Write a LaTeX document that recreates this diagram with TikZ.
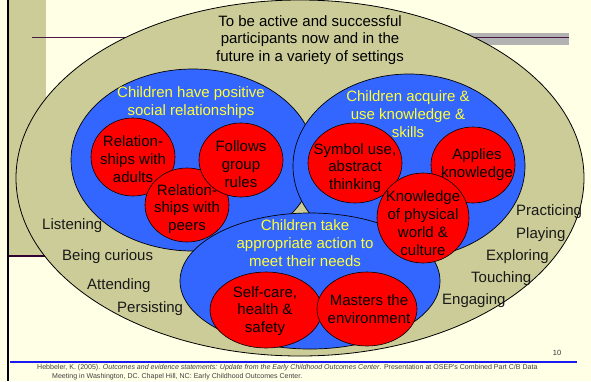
\documentclass[tikz,border=0pt]{standalone}
\usepackage{fontspec}
\setmainfont{Liberation Sans}
\usetikzlibrary{shapes.geometric}
\definecolor{slidebg}{HTML}{FFFFE5}
\definecolor{khaki}{HTML}{CCCC99}
\definecolor{ballblue}{HTML}{3366FF}
\definecolor{ballred}{HTML}{FF0000}
\definecolor{labelyellow}{HTML}{FFFF33}
\definecolor{rulepurple}{HTML}{4A1942}
\definecolor{barpurple}{HTML}{330033}
\definecolor{bargray}{HTML}{B2B2B2}
\definecolor{footblue}{HTML}{1A1AF0}

\begin{document}
\begin{tikzpicture}[x=1pt,y=-1pt,
  every node/.style={font=\fontsize{15}{17.8}\selectfont, align=center, inner sep=0pt},
  outerball/.style={ellipse, draw=black, line width=0.8pt, fill=khaki},
  domainball/.style={ellipse, draw=black, line width=0.7pt, fill=ballblue},
  outcomeball/.style={ellipse, draw=black, line width=0.6pt, fill=ballred},
  domaintext/.style={text=labelyellow},
  outcometext/.style={text=black},
  verb/.style={anchor=west, text=black!90},
  citetext/.style={anchor=west, font=\fontsize{7.05}{8}\selectfont, text=black!75}]

\useasboundingbox (0,0) rectangle (591,381);

% slide background and decorations
\fill[slidebg] (0,0) rectangle (591,381);
\fill[khaki] (9,0) rectangle (46,256);
\draw[barpurple, line width=2pt] (9,256) -- (120,256);
\fill[bargray] (440,32.5) rectangle (569,45);
\draw[rulepurple, line width=1.3pt] (32,37.5) -- (569,37.5);
\draw[black, line width=2.5pt] (8,0) -- (8,381);
\draw[footblue, line width=2pt] (10,362) -- (577,362);

% outer goal ellipse
\node[outerball, minimum width=568pt, minimum height=356pt] (goal) at (300,178) {};
\node (goalT) at (310,40) {To be active and successful\\participants now and in the\\future in a variety of settings};

% three outcome domains
\node[domainball, minimum width=244pt, minimum height=182pt] (social) at (193,160) {};
\node[domainball, minimum width=232pt, minimum height=184pt] (knowledge) at (409,166) {};
\node[domainball, minimum width=260pt, minimum height=136pt] (needs) at (310,281) {};

\node[domaintext] (socialT) at (191,103) {Children have positive\\social relationships};
\node[domaintext] (knowledgeT) at (408,114) {Children acquire \&\\use knowledge \&\\skills};
\node[domaintext] (needsT) at (305,243) {Children take\\appropriate action to\\meet their needs};

% specific outcomes
\node[outcomeball, minimum width=84pt, minimum height=78pt] (adults) at (133,157) {};
\node[outcomeball, minimum width=84pt, minimum height=74pt] (peers) at (187,205) {};
\node[outcomeball, minimum width=84pt, minimum height=74pt] (rules) at (241,160) {};
\node[outcomeball, minimum width=94pt, minimum height=80pt] (symbol) at (355,163) {};
\node[outcomeball, minimum width=84pt, minimum height=76pt] (applies) at (473,165) {};
\node[outcomeball, minimum width=92pt, minimum height=90pt] (world) at (423,218) {};
\node[outcomeball, minimum width=112pt, minimum height=76pt] (selfcare) at (266,310) {};
\node[outcomeball, minimum width=100pt, minimum height=74pt] (masters) at (367,309) {};

\node[outcometext] (adultsT) at (133,159) {Relation-\\ships with\\adults};
\node[outcometext] (peersT) at (187,209) {Relation-\\ships with\\peers};
\node[outcometext] (rulesT) at (241,164) {Follows\\group\\rules};
\node[outcometext] (symbolT) at (355,168) {Symbol use,\\abstract\\thinking};
\node[outcometext] (appliesT) at (477,165) {Applies\\knowledge};
\node[outcometext] (worldT) at (423,223) {Knowledge\\of physical\\world \&\\culture};
\node[outcometext] (selfcareT) at (265,311) {Self-care,\\health \&\\safety};
\node[outcometext] (mastersT) at (369,309) {Masters the\\environment};

% learning behaviours around the edge
\node[verb] (listening) at (42,226) {Listening};
\node[verb] (curious) at (62,257) {Being curious};
\node[verb] (attending) at (87,286) {Attending};
\node[verb] (persisting) at (117,309) {Persisting};
\node[verb] (practicing) at (516,212) {Practicing};
\node[verb] (playing) at (516,235) {Playing};
\node[verb] (exploring) at (486,257) {Exploring};
\node[verb] (touching) at (471,279) {Touching};
\node[verb] (engaging) at (442,301) {Engaging};

% footer
\node[font=\fontsize{7.5}{8}\selectfont, text=black!80] (pagenum) at (557,353) {10};
\node[citetext] (cite1) at (37,368) {Hebbeler, K. (2005). \textit{Outcomes and evidence statements: Update from the Early Childhood Outcomes Center}. Presentation at OSEP's Combined Part C/B Data};
\node[citetext] (cite2) at (52,377) {Meeting in Washington, DC. Chapel Hill, NC: Early Childhood Outcomes Center.};
\end{tikzpicture}
\end{document}
